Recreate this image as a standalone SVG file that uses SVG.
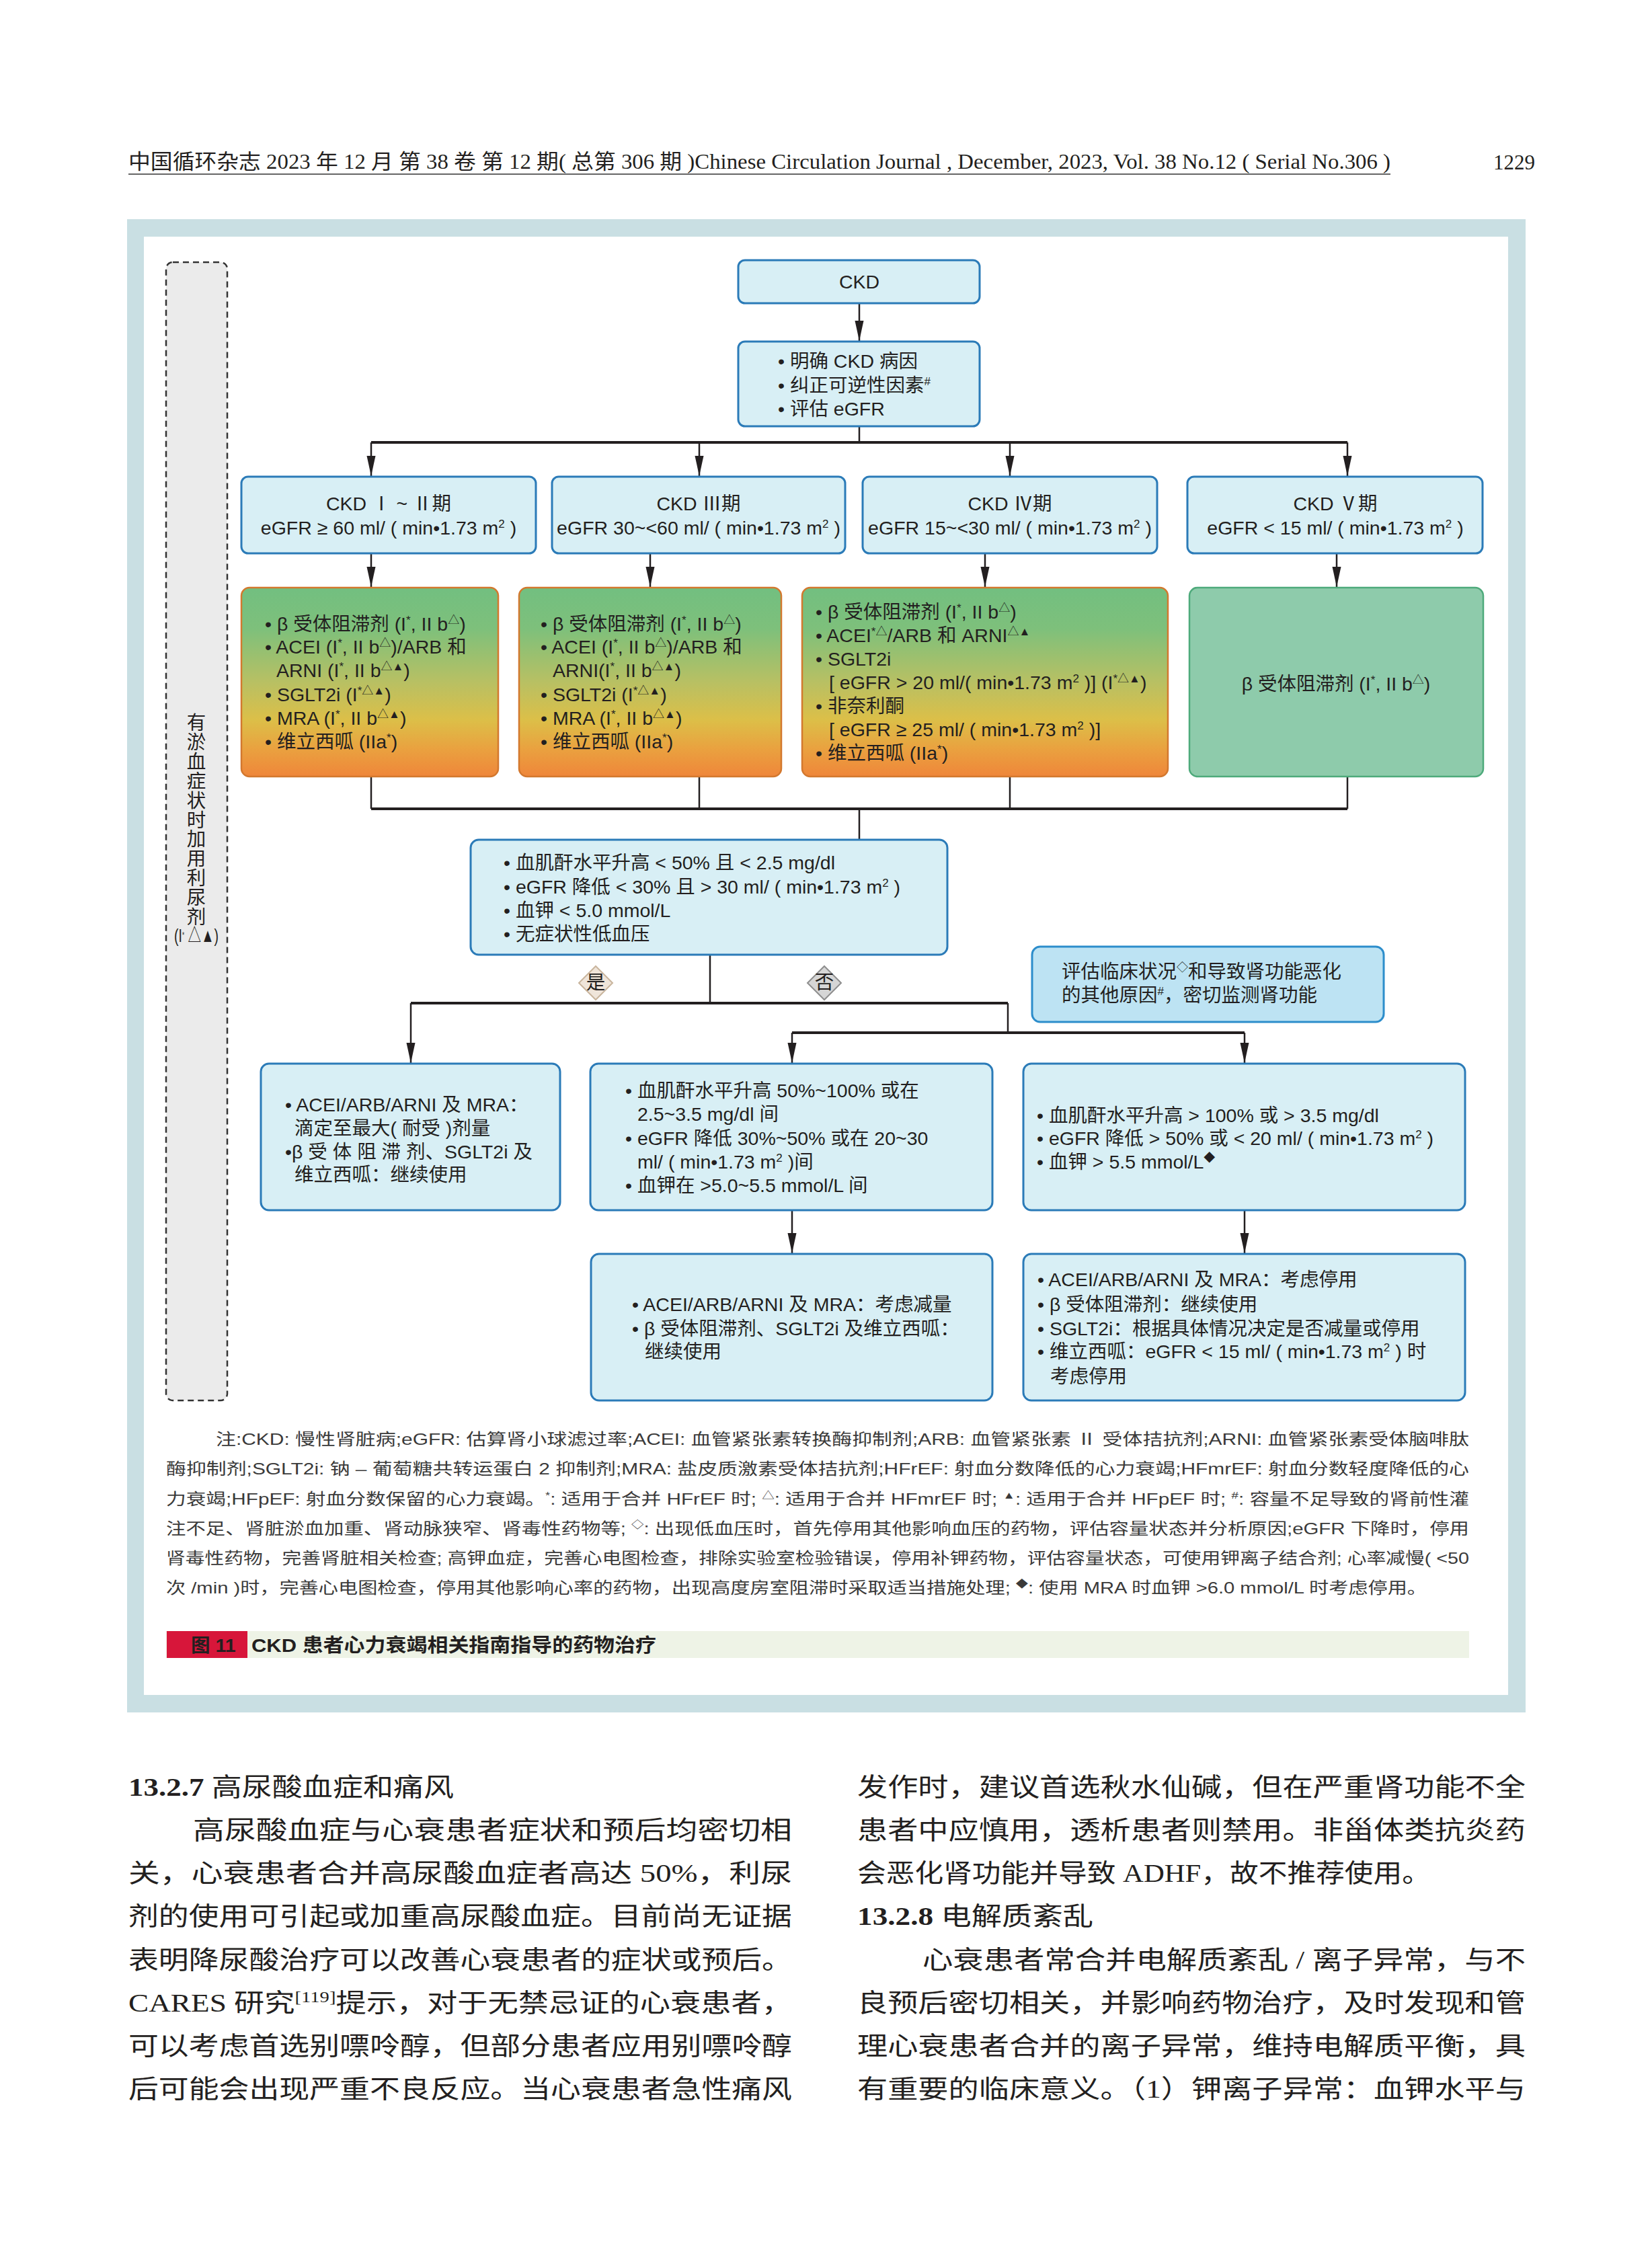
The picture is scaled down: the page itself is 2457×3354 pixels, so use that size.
<svg xmlns="http://www.w3.org/2000/svg" width="2457" height="3354" viewBox="0 0 2457 3354">
<defs>
<linearGradient id="gd" x1="0" y1="0" x2="0" y2="1">
<stop offset="0" stop-color="#72bf80"/>
<stop offset="0.22" stop-color="#7ec07b"/>
<stop offset="0.5" stop-color="#b8c063"/>
<stop offset="0.7" stop-color="#dcbf48"/>
<stop offset="0.86" stop-color="#eaa03f"/>
<stop offset="1" stop-color="#ef863a"/>
</linearGradient>
<marker id="ah" markerUnits="userSpaceOnUse" markerWidth="30" markerHeight="16" viewBox="0 0 30 16" refX="30" refY="8" orient="auto">
<path d="M0,1.5 L30,8 L0,14.5 z" fill="#231f20"/>
</marker>
<style>
.t{font-family:"Liberation Sans","Noto Sans CJK SC",sans-serif;font-size:28.5px;fill:#231f20}
.s{font-size:17px}
.nb{fill:#d8eff5;stroke:#2b7bb8;stroke-width:3}
.dr{fill:url(#gd);stroke:#d3782e;stroke-width:2.5}
.gr{fill:#8ecbab;stroke:#4eaa7b;stroke-width:2.5}
.ev{fill:#bde3f3;stroke:#2c8dcb;stroke-width:3}
.ln{fill:none;stroke:#231f20;stroke-width:2.5}
.hl{fill:none;stroke:#231f20;stroke-width:4}
.ar{fill:none;stroke:#231f20;stroke-width:2.5;marker-end:url(#ah)}
.note{font-family:"Liberation Sans","Noto Sans CJK SC",sans-serif;font-size:24px;fill:#3a3a3a}
.ns{font-size:15px}
.body{font-family:"Liberation Serif","Noto Sans CJK SC",serif;font-size:38px;fill:#231f20}
.hdr{font-family:"Liberation Serif","Noto Sans CJK SC",serif;font-size:31px;fill:#231f20}
</style>
</defs>
<rect width="2457" height="3354" fill="#ffffff"/>

<g id="header">
<text class="hdr" x="191" y="251" textLength="1877" lengthAdjust="spacingAndGlyphs">中国循环杂志 2023 年 12 月 第 38 卷 第 12 期( 总第 306 期 )Chinese Circulation Journal , December, 2023, Vol. 38 No.12 ( Serial No.306 )</text>
<line x1="191" y1="259" x2="2068" y2="259" stroke="#333" stroke-width="1.5"/>
<text class="hdr" x="2283" y="252" text-anchor="end" font-size="35">1229</text>
</g>

<g id="panel">
<rect x="189" y="326" width="2080" height="2221" fill="#c9dfe3"/>
<rect x="214" y="352" width="2029" height="2169" fill="#ffffff"/>
</g>

<g id="side-note">
<rect x="247" y="390" width="91" height="1693" rx="10" fill="#ebebeb" stroke="#333" stroke-width="2.5" stroke-dasharray="9 6"/>
<text class="t" font-size="26" fill="#444" text-anchor="middle" x="292" y="1085">有<tspan x="292" dy="28.9">淤</tspan><tspan x="292" dy="28.9">血</tspan><tspan x="292" dy="28.9">症</tspan><tspan x="292" dy="28.9">状</tspan><tspan x="292" dy="28.9">时</tspan><tspan x="292" dy="28.9">加</tspan><tspan x="292" dy="28.9">用</tspan><tspan x="292" dy="28.9">利</tspan><tspan x="292" dy="28.9">尿</tspan><tspan x="292" dy="28.9">剂</tspan></text>
<text class="t" font-size="18" fill="#444" x="259" y="1401" textLength="66" lengthAdjust="spacingAndGlyphs">(I<tspan font-size="12" dy="-6">*</tspan><tspan dy="6"> △▲)</tspan></text>
</g>

<g id="connectors">
<line class="ar" x1="1278" y1="451" x2="1278" y2="507"/>
<line class="ln" x1="1278" y1="634" x2="1278" y2="658"/>
<line class="hl" x1="552" y1="658" x2="2004" y2="658"/>
<line class="ar" x1="552" y1="658" x2="552" y2="708"/>
<line class="ar" x1="1040" y1="658" x2="1040" y2="708"/>
<line class="ar" x1="1502" y1="658" x2="1502" y2="708"/>
<line class="ar" x1="2004" y1="658" x2="2004" y2="708"/>
<line class="ar" x1="552" y1="823" x2="552" y2="873"/>
<line class="ar" x1="967" y1="823" x2="967" y2="873"/>
<line class="ar" x1="1465" y1="823" x2="1465" y2="873"/>
<line class="ar" x1="1988" y1="823" x2="1988" y2="873"/>
<line class="ln" x1="552" y1="1155" x2="552" y2="1203"/>
<line class="ln" x1="1040" y1="1155" x2="1040" y2="1203"/>
<line class="ln" x1="1502" y1="1155" x2="1502" y2="1203"/>
<line class="ln" x1="2004" y1="1155" x2="2004" y2="1203"/>
<line class="hl" x1="552" y1="1203" x2="2004" y2="1203"/>
<line class="ln" x1="1278" y1="1203" x2="1278" y2="1249"/>
<line class="ln" x1="1056" y1="1420" x2="1056" y2="1492"/>
<line class="hl" x1="611" y1="1492" x2="1499" y2="1492"/>
<line class="ar" x1="611" y1="1492" x2="611" y2="1581"/>
<line class="ln" x1="1499" y1="1492" x2="1499" y2="1536"/>
<line class="hl" x1="1178" y1="1536" x2="1851" y2="1536"/>
<line class="ar" x1="1178" y1="1536" x2="1178" y2="1581"/>
<line class="ar" x1="1851" y1="1536" x2="1851" y2="1581"/>
<line class="ar" x1="1178" y1="1800" x2="1178" y2="1864"/>
<line class="ar" x1="1851" y1="1800" x2="1851" y2="1864"/>
</g>

<g id="n-ckd">
<rect class="nb" x="1098" y="387" width="359" height="64" rx="10"/>
<text class="t" x="1278" y="429" text-anchor="middle">CKD</text>
</g>

<g id="n-assess">
<rect class="nb" x="1098" y="508" width="359" height="126" rx="10"/>
<text class="t" x="1157" y="547">• 明确 CKD 病因</text>
<text class="t" x="1157" y="583">• 纠正可逆性因素<tspan class="s" dy="-10">#</tspan></text>
<text class="t" x="1157" y="618">• 评估 eGFR</text>
</g>

<g id="n-stage1">
<rect class="nb" x="359" y="709" width="438" height="114" rx="10"/>
<text class="t" x="578" y="759" text-anchor="middle">CKD Ⅰ ~ Ⅱ期</text>
<text class="t" x="578" y="795" text-anchor="middle">eGFR ≥ 60 ml/ ( min•1.73 m<tspan class="s" dy="-10">2</tspan><tspan dy="10"> )</tspan></text>
</g>
<g id="n-stage2">
<rect class="nb" x="821" y="709" width="436" height="114" rx="10"/>
<text class="t" x="1039" y="759" text-anchor="middle">CKD Ⅲ期</text>
<text class="t" x="1039" y="795" text-anchor="middle">eGFR 30~&lt;60 ml/ ( min•1.73 m<tspan class="s" dy="-10">2</tspan><tspan dy="10"> )</tspan></text>
</g>
<g id="n-stage3">
<rect class="nb" x="1283" y="709" width="438" height="114" rx="10"/>
<text class="t" x="1502" y="759" text-anchor="middle">CKD Ⅳ期</text>
<text class="t" x="1502" y="795" text-anchor="middle">eGFR 15~&lt;30 ml/ ( min•1.73 m<tspan class="s" dy="-10">2</tspan><tspan dy="10"> )</tspan></text>
</g>
<g id="n-stage4">
<rect class="nb" x="1766" y="709" width="439" height="114" rx="10"/>
<text class="t" x="1986" y="759" text-anchor="middle">CKD Ⅴ期</text>
<text class="t" x="1986" y="795" text-anchor="middle">eGFR &lt; 15 ml/ ( min•1.73 m<tspan class="s" dy="-10">2</tspan><tspan dy="10"> )</tspan></text>
</g>

<g id="n-drug1">
<rect class="dr" x="359" y="874" width="382" height="281" rx="12"/>
<text class="t" x="394" y="938">• β  受体阻滞剂 (I<tspan class="s" dy="-10">*</tspan><tspan dy="10">, II b</tspan><tspan class="s" dy="-10">△</tspan><tspan dy="10">)</tspan></text>
<text class="t" x="394" y="972">• ACEI (I<tspan class="s" dy="-10">*</tspan><tspan dy="10">, II b</tspan><tspan class="s" dy="-10">△</tspan><tspan dy="10">)/ARB 和</tspan></text>
<text class="t" x="411" y="1007">ARNI (I<tspan class="s" dy="-10">*</tspan><tspan dy="10">, II b</tspan><tspan class="s" dy="-10">△▲</tspan><tspan dy="10">)</tspan></text>
<text class="t" x="394" y="1043">• SGLT2i (I<tspan class="s" dy="-10">*△▲</tspan><tspan dy="10">)</tspan></text>
<text class="t" x="394" y="1078">• MRA (I<tspan class="s" dy="-10">*</tspan><tspan dy="10">, II b</tspan><tspan class="s" dy="-10">△▲</tspan><tspan dy="10">)</tspan></text>
<text class="t" x="394" y="1113">• 维立西呱 (IIa<tspan class="s" dy="-10">*</tspan><tspan dy="10">)</tspan></text>
</g>

<g id="n-drug2">
<rect class="dr" x="772" y="874" width="390" height="281" rx="12"/>
<text class="t" x="804" y="938">• β  受体阻滞剂 (I<tspan class="s" dy="-10">*</tspan><tspan dy="10">, II b</tspan><tspan class="s" dy="-10">△</tspan><tspan dy="10">)</tspan></text>
<text class="t" x="804" y="972">• ACEI (I<tspan class="s" dy="-10">*</tspan><tspan dy="10">,  II b</tspan><tspan class="s" dy="-10">△</tspan><tspan dy="10">)/ARB 和</tspan></text>
<text class="t" x="822" y="1007">ARNI(I<tspan class="s" dy="-10">*</tspan><tspan dy="10">,  II b</tspan><tspan class="s" dy="-10">△▲</tspan><tspan dy="10">)</tspan></text>
<text class="t" x="804" y="1043">• SGLT2i (I<tspan class="s" dy="-10">*△▲</tspan><tspan dy="10">)</tspan></text>
<text class="t" x="804" y="1078">• MRA (I<tspan class="s" dy="-10">*</tspan><tspan dy="10">, II b</tspan><tspan class="s" dy="-10">△▲</tspan><tspan dy="10">)</tspan></text>
<text class="t" x="804" y="1113">• 维立西呱 (IIa<tspan class="s" dy="-10">*</tspan><tspan dy="10">)</tspan></text>
</g>

<g id="n-drug3">
<rect class="dr" x="1193" y="874" width="544" height="281" rx="12"/>
<text class="t" x="1213" y="920">•  β  受体阻滞剂 (I<tspan class="s" dy="-10">*</tspan><tspan dy="10">, II b</tspan><tspan class="s" dy="-10">△</tspan><tspan dy="10">)</tspan></text>
<text class="t" x="1213" y="955">• ACEI<tspan class="s" dy="-10">*△</tspan><tspan dy="10">/ARB 和 ARNI</tspan><tspan class="s" dy="-10">△▲</tspan></text>
<text class="t" x="1213" y="990">• SGLT2i</text>
<text class="t" x="1233" y="1025">[ eGFR &gt; 20 ml/( min•1.73 m<tspan class="s" dy="-10">2</tspan><tspan dy="10"> )] (I</tspan><tspan class="s" dy="-10">*△▲</tspan><tspan dy="10">)</tspan></text>
<text class="t" x="1213" y="1060">• 非奈利酮</text>
<text class="t" x="1233" y="1095">[ eGFR ≥ 25 ml/ ( min•1.73 m<tspan class="s" dy="-10">2</tspan><tspan dy="10"> )]</tspan></text>
<text class="t" x="1213" y="1130">• 维立西呱 (IIa<tspan class="s" dy="-10">*</tspan><tspan dy="10">)</tspan></text>
</g>

<g id="n-drug4">
<rect class="gr" x="1769" y="874" width="437" height="281" rx="12"/>
<text class="t" x="1987" y="1027" text-anchor="middle">β  受体阻滞剂 (I<tspan class="s" dy="-10">*</tspan><tspan dy="10">, II b</tspan><tspan class="s" dy="-10">△</tspan><tspan dy="10">)</tspan></text>
</g>

<g id="n-cond">
<rect class="nb" x="700" y="1249" width="709" height="171" rx="12"/>
<text class="t" x="749" y="1293">• 血肌酐水平升高 &lt; 50% 且 &lt; 2.5 mg/dl</text>
<text class="t" x="749" y="1329">• eGFR 降低 &lt; 30% 且 &gt; 30 ml/ ( min•1.73 m<tspan class="s" dy="-10">2</tspan><tspan dy="10"> )</tspan></text>
<text class="t" x="749" y="1364">• 血钾 &lt; 5.0 mmol/L</text>
<text class="t" x="749" y="1399">• 无症状性低血压</text>
</g>

<g id="d-yes">
<polygon points="886,1437 911,1462 886,1487 861,1462" fill="#efe5da" stroke="#c9b59d" stroke-width="2"/>
<text class="t" font-size="24" x="886" y="1471" text-anchor="middle" fill="#444">是</text>
</g>
<g id="d-no">
<polygon points="1226,1437 1251,1462 1226,1487 1201,1462" fill="#d6d6d6" stroke="#8e8e8e" stroke-width="2"/>
<text class="t" font-size="24" x="1226" y="1471" text-anchor="middle" fill="#333">否</text>
</g>

<g id="n-eval">
<rect class="ev" x="1535" y="1408" width="523" height="112" rx="12"/>
<text class="t" font-size="29.5" x="1579" y="1455">评估临床状况<tspan class="s" dy="-10">◇</tspan><tspan dy="10">和导致肾功能恶化</tspan></text>
<text class="t" font-size="29.5" x="1579" y="1490">的其他原因<tspan class="s" dy="-10">#</tspan><tspan dy="10">，密切监测肾功能</tspan></text>
</g>

<g id="n-a">
<rect class="nb" x="388" y="1582" width="445" height="218" rx="12"/>
<text class="t" x="424" y="1653">• ACEI/ARB/ARNI  及  MRA：</text>
<text class="t" x="438" y="1688">滴定至最大( 耐受 )剂量</text>
<text class="t" x="424" y="1723">•β  受 体 阻 滞 剂、SGLT2i 及</text>
<text class="t" x="438" y="1757">维立西呱：继续使用</text>
</g>

<g id="n-b">
<rect class="nb" x="878" y="1582" width="598" height="218" rx="12"/>
<text class="t" x="930" y="1632">• 血肌酐水平升高 50%~100% 或在</text>
<text class="t" x="948" y="1667">2.5~3.5 mg/dl 间</text>
<text class="t" x="930" y="1703">• eGFR 降低 30%~50% 或在 20~30</text>
<text class="t" x="948" y="1738">ml/ ( min•1.73 m<tspan class="s" dy="-10">2</tspan><tspan dy="10"> )间</tspan></text>
<text class="t" x="930" y="1773">• 血钾在 &gt;5.0~5.5 mmol/L 间</text>
</g>

<g id="n-c">
<rect class="nb" x="1522" y="1582" width="657" height="218" rx="12"/>
<text class="t" x="1542" y="1669">• 血肌酐水平升高 &gt; 100% 或 &gt; 3.5 mg/dl</text>
<text class="t" x="1542" y="1703">• eGFR 降低 &gt; 50% 或 &lt; 20 ml/ ( min•1.73 m<tspan class="s" dy="-10">2</tspan><tspan dy="10"> )</tspan></text>
<text class="t" x="1542" y="1738">• 血钾 &gt; 5.5 mmol/L<tspan class="s" dy="-10">◆</tspan></text>
</g>

<g id="n-d">
<rect class="nb" x="879" y="1865" width="597" height="218" rx="12"/>
<text class="t" x="940" y="1950">• ACEI/ARB/ARNI 及 MRA：考虑减量</text>
<text class="t" x="940" y="1986">• β  受体阻滞剂、SGLT2i 及维立西呱：</text>
<text class="t" x="959" y="2020">继续使用</text>
</g>

<g id="n-e">
<rect class="nb" x="1522" y="1865" width="657" height="218" rx="12"/>
<text class="t" x="1543" y="1913">• ACEI/ARB/ARNI 及 MRA：考虑停用</text>
<text class="t" x="1543" y="1950">• β  受体阻滞剂：继续使用</text>
<text class="t" x="1543" y="1986">• SGLT2i：根据具体情况决定是否减量或停用</text>
<text class="t" x="1543" y="2020">• 维立西呱：eGFR &lt; 15 ml/ ( min•1.73 m<tspan class="s" dy="-10">2</tspan><tspan dy="10"> ) 时</tspan></text>
<text class="t" x="1562" y="2057">考虑停用</text>
</g>

<g id="notes">
<text class="note" x="321" y="2149" textLength="1864" lengthAdjust="spacingAndGlyphs">注:CKD: 慢性肾脏病;eGFR: 估算肾小球滤过率;ACEI: 血管紧张素转换酶抑制剂;ARB: 血管紧张素 Ⅱ 受体拮抗剂;ARNI: 血管紧张素受体脑啡肽</text>
<text class="note" x="247" y="2193" textLength="1938" lengthAdjust="spacingAndGlyphs">酶抑制剂;SGLT2i: 钠 – 葡萄糖共转运蛋白 2 抑制剂;MRA: 盐皮质激素受体拮抗剂;HFrEF: 射血分数降低的心力衰竭;HFmrEF: 射血分数轻度降低的心</text>
<text class="note" x="247" y="2238" textLength="1938" lengthAdjust="spacingAndGlyphs">力衰竭;HFpEF: 射血分数保留的心力衰竭。<tspan class="ns" dy="-9">*</tspan><tspan dy="9">: 适用于合并 HFrEF 时; </tspan><tspan class="ns" dy="-9">△</tspan><tspan dy="9">: 适用于合并 HFmrEF 时; </tspan><tspan class="ns" dy="-9">▲</tspan><tspan dy="9">: 适用于合并 HFpEF 时; </tspan><tspan class="ns" dy="-9">#</tspan><tspan dy="9">: 容量不足导致的肾前性灌</tspan></text>
<text class="note" x="247" y="2282" textLength="1938" lengthAdjust="spacingAndGlyphs">注不足、肾脏淤血加重、肾动脉狭窄、肾毒性药物等; <tspan class="ns" dy="-9">◇</tspan><tspan dy="9">: 出现低血压时，首先停用其他影响血压的药物，评估容量状态并分析原因;eGFR 下降时，停用</tspan></text>
<text class="note" x="247" y="2326" textLength="1938" lengthAdjust="spacingAndGlyphs">肾毒性药物，完善肾脏相关检查; 高钾血症，完善心电图检查，排除实验室检验错误，停用补钾药物，评估容量状态，可使用钾离子结合剂; 心率减慢( &lt;50</text>
<text class="note" x="247" y="2370" textLength="1875" lengthAdjust="spacingAndGlyphs">次 /min )时，完善心电图检查，停用其他影响心率的药物，出现高度房室阻滞时采取适当措施处理; <tspan class="ns" dy="-9">◆</tspan><tspan dy="9">: 使用 MRA 时血钾 &gt;6.0 mmol/L 时考虑停用。</tspan></text>
</g>

<g id="caption">
<rect x="247" y="2426" width="1938" height="40" fill="#eef3e6"/>
<rect x="248" y="2426" width="120" height="40" fill="#d7163a"/>
<text class="t" x="284" y="2457" fill="#ffffff" font-size="29" font-weight="bold">图 11</text>
<text class="t" x="374" y="2457" font-size="30" font-weight="bold" textLength="602" lengthAdjust="spacingAndGlyphs">CKD 患者心力衰竭相关指南指导的药物治疗</text>
</g>

<g id="body-text">
<text class="body" x="191" y="2671" textLength="484" lengthAdjust="spacingAndGlyphs"><tspan font-weight="bold">13.2.7</tspan> 高尿酸血症和痛风</text>
<text class="body" x="287" y="2735" textLength="891" lengthAdjust="spacingAndGlyphs">高尿酸血症与心衰患者症状和预后均密切相</text>
<text class="body" x="191" y="2799" textLength="987" lengthAdjust="spacingAndGlyphs">关，心衰患者合并高尿酸血症者高达 50%，利尿</text>
<text class="body" x="191" y="2863" textLength="987" lengthAdjust="spacingAndGlyphs">剂的使用可引起或加重高尿酸血症。目前尚无证据</text>
<text class="body" x="191" y="2928" textLength="987" lengthAdjust="spacingAndGlyphs">表明降尿酸治疗可以改善心衰患者的症状或预后。</text>
<text class="body" x="191" y="2992" textLength="987" lengthAdjust="spacingAndGlyphs">CARES 研究<tspan font-size="24" dy="-14">[119]</tspan><tspan dy="14">提示，对于无禁忌证的心衰患者，</tspan></text>
<text class="body" x="191" y="3056" textLength="987" lengthAdjust="spacingAndGlyphs">可以考虑首选别嘌呤醇，但部分患者应用别嘌呤醇</text>
<text class="body" x="191" y="3120" textLength="987" lengthAdjust="spacingAndGlyphs">后可能会出现严重不良反应。当心衰患者急性痛风</text>
<text class="body" x="1275" y="2671" textLength="994" lengthAdjust="spacingAndGlyphs">发作时，建议首选秋水仙碱，但在严重肾功能不全</text>
<text class="body" x="1275" y="2735" textLength="994" lengthAdjust="spacingAndGlyphs">患者中应慎用，透析患者则禁用。非甾体类抗炎药</text>
<text class="body" x="1275" y="2799" textLength="853" lengthAdjust="spacingAndGlyphs">会恶化肾功能并导致 ADHF，故不推荐使用。</text>
<text class="body" x="1275" y="2863" textLength="351" lengthAdjust="spacingAndGlyphs"><tspan font-weight="bold">13.2.8</tspan> 电解质紊乱</text>
<text class="body" x="1372" y="2928" textLength="897" lengthAdjust="spacingAndGlyphs">心衰患者常合并电解质紊乱 / 离子异常，与不</text>
<text class="body" x="1275" y="2992" textLength="994" lengthAdjust="spacingAndGlyphs">良预后密切相关，并影响药物治疗，及时发现和管</text>
<text class="body" x="1275" y="3056" textLength="994" lengthAdjust="spacingAndGlyphs">理心衰患者合并的离子异常，维持电解质平衡，具</text>
<text class="body" x="1275" y="3120" textLength="994" lengthAdjust="spacingAndGlyphs">有重要的临床意义。（1）钾离子异常：血钾水平与</text>
</g>
</svg>
